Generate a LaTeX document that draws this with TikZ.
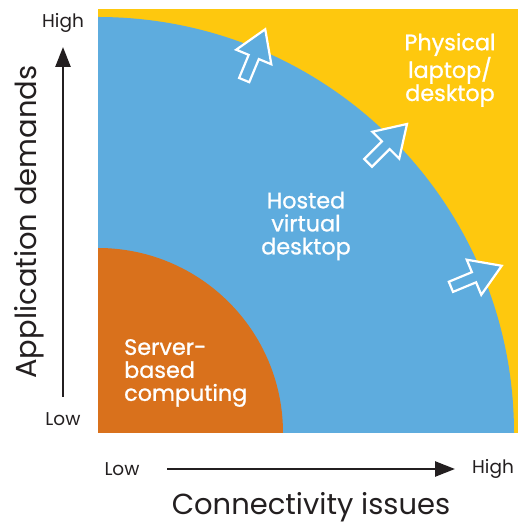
\documentclass[tikz,border=0pt]{standalone}
\usepackage{fontspec}
\setmainfont{Poppins}
\newfontfamily\zonefont{Poppins}[FakeBold=1]
\usetikzlibrary{arrows.meta}
\definecolor{panelyellow}{HTML}{FEC80E}
\definecolor{hostblue}{HTML}{5EACDE}
\definecolor{serverorange}{HTML}{D9711C}
\definecolor{axisgray}{HTML}{231F20}

\begin{document}
\begin{tikzpicture}[x=1pt, y=1pt,
  zonelabel/.style={text=white, inner sep=0pt, align=center, font=\zonefont\fontsize{22.3}{23}\selectfont},
  ticklabel/.style={text=axisgray, inner sep=0pt, font=\fontsize{18.5}{20}\selectfont},
  axistitle/.style={text=axisgray, inner sep=0pt, font=\fontsize{29}{32}\selectfont},
  axisline/.style={axisgray, line width=2.5pt, -{Triangle[length=20pt,width=15pt]}},
  outarrow/.style={white, line width=2.2pt, fill=hostblue, miter limit=10}]

\useasboundingbox (-98,-93) rectangle (420,433);

\coordinate (O) at (0,0);

% zones
\fill[panelyellow] (O) rectangle (420,424);
\fill[hostblue] (O) -- (416,0) arc (0:90:416) -- cycle;
\fill[serverorange] (O) -- (185,0) arc (0:90:185) -- cycle;

% outward arrows
\foreach \ang in {22.5,45,67.5}
  \draw[outarrow, rotate=\ang] (382,-5.5) -- (407,-5.5) -- (407,-19) -- (437,0)
    -- (407,19) -- (407,5.5) -- (382,5.5) -- cycle;

\node[zonelabel] (physical) at (352,363) {Physical\\laptop/\\desktop};
\node[zonelabel] (hosted) at (208,207) {Hosted\\virtual\\desktop};
\node[zonelabel, align=left, anchor=west] (server) at (26,60) {Server-\\based\\computing};

% axes
\coordinate (vlow) at (-35,36);
\coordinate (vhigh) at (-35,386);
\coordinate (hlow) at (69,-36);
\coordinate (hhigh) at (357,-36);
\draw[axisline] (vlow) -- (vhigh);
\draw[axisline] (hlow) -- (hhigh);

\node[ticklabel] (vlowtext) at (-35,14) {Low};
\node[ticklabel] (vhightext) at (-35,410) {High};
\node[ticklabel] (hlowtext) at (24,-36) {Low};
\node[ticklabel] (hhightext) at (395,-36) {High};

\node[axistitle, rotate=90] (ytitle) at (-69,211) {Application demands};
\node[axistitle] (xtitle) at (213,-74) {Connectivity issues};

\end{tikzpicture}
\end{document}
